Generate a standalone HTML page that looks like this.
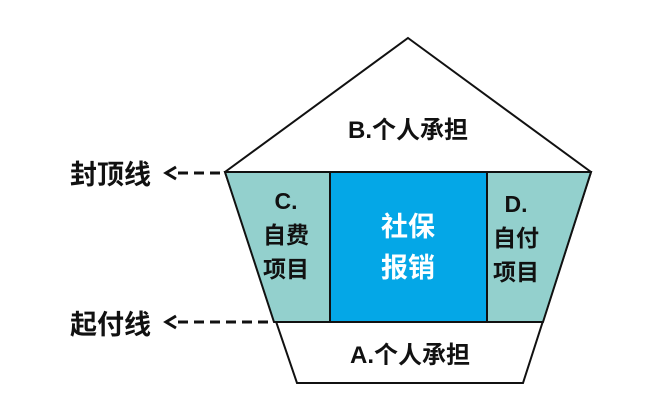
<!DOCTYPE html>
<html><head><meta charset="utf-8"><style>
body{margin:0;background:#fff;}
svg text{font-family:"Liberation Sans","Noto Sans CJK SC",sans-serif;font-weight:bold;}
</style></head><body>
<svg width="665" height="402" viewBox="0 0 665 402" xmlns="http://www.w3.org/2000/svg">
<rect width="665" height="402" fill="#fff"/>
<polygon points="408,38 591,172 523,383 297,383 225,172" fill="#fff" stroke="#111" stroke-width="2"/>
<polygon points="225,172 330,172 330,322 274,322" fill="#93d0cd" stroke="#111" stroke-width="2"/>
<rect x="330" y="172" width="157" height="150" fill="#04a7e7" stroke="#111" stroke-width="2"/>
<polygon points="487,172 591,172 543,322 487,322" fill="#93d0cd" stroke="#111" stroke-width="2"/>
<line x1="225" y1="172" x2="591" y2="172" stroke="#111" stroke-width="2"/>
<line x1="274" y1="322" x2="543" y2="322" stroke="#111" stroke-width="2"/>
<line x1="178" y1="173" x2="224" y2="173" stroke="#111" stroke-width="3" stroke-dasharray="10,6"/>
<line x1="178" y1="322" x2="272" y2="322" stroke="#111" stroke-width="3" stroke-dasharray="10,6"/>
<polyline points="176,167 166,173 176,179" fill="none" stroke="#111" stroke-width="3"/>
<polyline points="176,316 166,322 176,328" fill="none" stroke="#111" stroke-width="3"/>
<text x="70" y="184" font-size="27" fill="#111">封顶线</text>
<text x="70" y="334" font-size="27" fill="#111">起付线</text>
<text x="408" y="138" font-size="24" fill="#111" text-anchor="middle">B.个人承担</text>
<text x="410" y="363" font-size="24" fill="#111" text-anchor="middle">A.个人承担</text>
<text x="286" y="209" font-size="23" fill="#111" text-anchor="middle">C.</text>
<text x="286" y="243" font-size="23" fill="#111" text-anchor="middle">自费</text>
<text x="286" y="277" font-size="23" fill="#111" text-anchor="middle">项目</text>
<text x="516" y="212" font-size="23" fill="#111" text-anchor="middle">D.</text>
<text x="516" y="246" font-size="23" fill="#111" text-anchor="middle">自付</text>
<text x="516" y="280" font-size="23" fill="#111" text-anchor="middle">项目</text>
<text x="408" y="236" font-size="27" fill="#fff" text-anchor="middle">社保</text>
<text x="408" y="277" font-size="27" fill="#fff" text-anchor="middle">报销</text>
</svg>
</body></html>
